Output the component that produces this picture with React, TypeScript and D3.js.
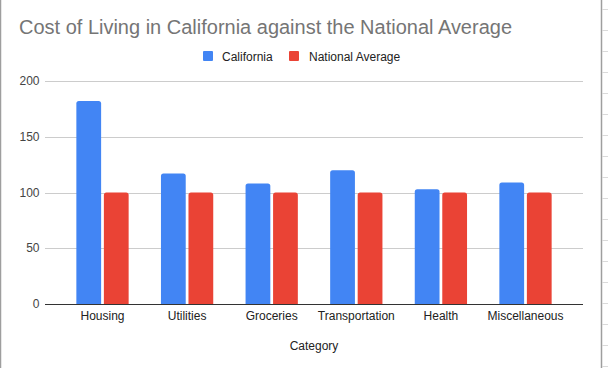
import React from "react";
import * as d3 from "d3";

const categories = ["Housing", "Utilities", "Groceries", "Transportation", "Health", "Miscellaneous"];
const seriesNames = ["California", "National Average"];
const california = [182, 117, 108, 120, 103, 109];
const national = [100, 100, 100, 100, 100, 100];
const yTicks = [0, 50, 100, 150, 200];
const colors = ["#4285F4", "#EA4335"];
const titleText = "Cost of Living in California against the National Average";
const xAxisTitle = "Category";

const W = 608;
const H = 368;
const plotLeft = 45;
const plotRight = 583;
const yTop = 81;
const yBottom = 304;

function topRoundedRect(x: number, y: number, w: number, h: number, r: number) {
  const rr = Math.min(r, h, w / 2);
  return `M${x},${y + h}V${y + rr}Q${x},${y} ${x + rr},${y}H${x + w - rr}Q${x + w},${y} ${x + w},${y + rr}V${y + h}Z`;
}

export default function App() {
  React.useEffect(() => {
    document.body.style.margin = "0";
  }, []);

  const x = d3.scaleBand<string>().domain(categories).range([60.2, 567.8]).paddingInner(0.382).paddingOuter(0.191);
  const xs = d3.scaleBand<string>().domain(seriesNames).range([0, x.bandwidth()]).paddingInner(0.1);
  const y = d3.scaleLinear().domain([0, 200]).range([yBottom, yTop]);
  const series = [california, national];
  const font = "Arial, 'Liberation Sans', sans-serif";
  const sheetRows = d3.range(0, 18).map((i) => 9.5 + 21 * i);

  return (
    <svg width={W} height={H} style={{ position: "absolute", left: 0, top: 0, display: "block" }} fontFamily={font}>
      <rect x={0} y={0} width={W} height={H} fill="#fff" />
      {/* spreadsheet remnants */}
      <line x1={0.5} x2={0.5} y1={0} y2={H} stroke="#9e9e9e" strokeWidth={1.5} />
      <line x1={601.5} x2={601.5} y1={0} y2={H} stroke="#9e9e9e" strokeWidth={1.5} />
      {sheetRows.map((r) => (
        <line key={r} x1={602} x2={W} y1={r} y2={r} stroke="#dadada" strokeWidth={1} />
      ))}
      <text x={19} y={34} fontSize={20} textLength={493} lengthAdjust="spacingAndGlyphs" fill="#757575">{titleText}</text>
      {/* legend */}
      <rect x={203} y={51} width={10} height={10} fill={colors[0]} rx={1} />
      <text x={222} y={61} fontSize={12} fill="#222">{seriesNames[0]}</text>
      <rect x={289} y={51} width={10} height={10} fill={colors[1]} rx={1} />
      <text x={309} y={61} fontSize={12} fill="#222">{seriesNames[1]}</text>
      {/* gridlines and y labels */}
      {yTicks.map((t) => (
        <g key={t}>
          {t !== 0 && <line x1={plotLeft} x2={plotRight} y1={Math.round(y(t)) + 0.5} y2={Math.round(y(t)) + 0.5} stroke="#cccccc" />}
          <text x={39.5} y={y(t) + 4} fontSize={12} textAnchor="end" fill="#444">{t}</text>
        </g>
      ))}
      {/* bars */}
      {categories.map((c, i) => (
        <g key={c}>
          {series.map((s, j) => {
            const bx = (x(c) ?? 0) + (xs(seriesNames[j]) ?? 0);
            const by = y(s[i]);
            return <path key={j} d={topRoundedRect(bx, by, xs.bandwidth(), yBottom - by, 2.5)} fill={colors[j]} />;
          })}
          <text x={(x(c) ?? 0) + x.bandwidth() / 2} y={320} fontSize={12} textAnchor="middle" fill="#222">{c}</text>
        </g>
      ))}
      <line x1={plotLeft} x2={plotRight} y1={yBottom + 0.5} y2={yBottom + 0.5} stroke="#333" strokeWidth={1.2} />
      <text x={(plotLeft + plotRight) / 2} y={350} fontSize={12} textAnchor="middle" fill="#222">{xAxisTitle}</text>
    </svg>
  );
}
